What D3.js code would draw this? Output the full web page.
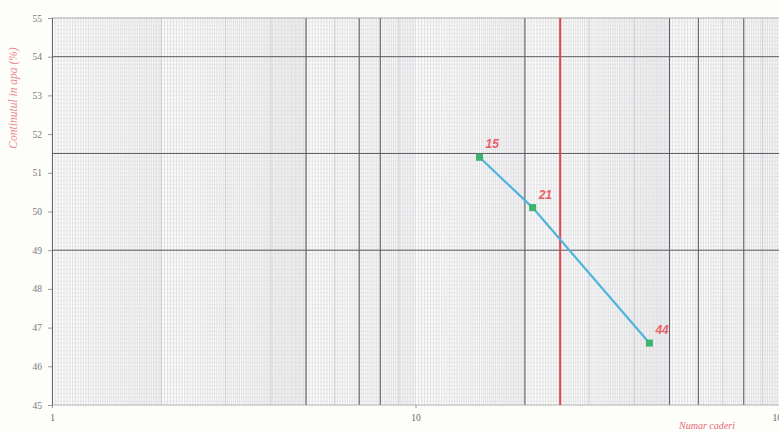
<!DOCTYPE html>
<html>
<head>
<meta charset="utf-8">
<script src="https://cdn.jsdelivr.net/npm/d3@7"></script>
<style>
  html, body { margin: 0; padding: 0; background: #fdfdf9; overflow: hidden; }
  svg { display: block; }
</style>
</head>
<body>
<svg id="chart" width="779" height="433"></svg>
<script>
// Number of blows and measured water content for each trial
const blows = [15, 21, 44];
const waterContent = [51.4, 50.1, 46.6];
const pointLabels = ["15", "21", "44"];

// Reference blow count for the liquid limit
const referenceBlows = [25];

// Axis ticks
const xTicks = [1, 10, 100];
const yTicks = [45, 46, 47, 48, 49, 50, 51, 52, 53, 54, 55];

// Heavier printed lines on the log paper
const heavyX = [5, 7, 8, 20, 50, 60, 80];
const heavyY = [54, 51.5, 49];

const margin = { left: 52, top: 18 };
const plotW = 727, plotH = 387;

const svg = d3.select("#chart");
const g = svg.append("g").attr("transform", `translate(${margin.left},${margin.top})`);

const x = d3.scaleLog().domain([1, 100]).range([0, plotW]);
const y = d3.scaleLinear().domain([45, 55]).range([plotH, 0]);

// plot background
g.append("rect").attr("width", plotW).attr("height", plotH).attr("fill", "#fafafa");

// fine vertical rulings of the log paper
const fineX = [];
for (const dec of [1, 10]) {
  for (let v = 1; v < 2 - 1e-9; v += 0.02) fineX.push(v * dec);
  for (let v = 2; v < 5 - 1e-9; v += 0.04) fineX.push(v * dec);
  for (let v = 5; v < 10 - 1e-9; v += 0.1) fineX.push(v * dec);
}
g.append("g").selectAll("line").data(fineX).join("line")
  .attr("x1", d => x(d)).attr("x2", d => x(d))
  .attr("y1", 0).attr("y2", plotH)
  .attr("stroke", "#cdcdd3").attr("stroke-width", 0.5);

// fine horizontal rulings every 0.1 %
const fineY = d3.range(45, 55.0001, 0.1);
g.append("g").selectAll("line").data(fineY).join("line")
  .attr("x1", 0).attr("x2", plotW)
  .attr("y1", d => y(d)).attr("y2", d => y(d))
  .attr("stroke", "#c6c6cb").attr("stroke-width", 0.5)
  .attr("stroke-dasharray", "1,1.2");

// integer vertical lines
const intX = [];
for (const dec of [1, 10]) for (let k = 2; k <= 9; k++) intX.push(k * dec);
g.append("g").selectAll("line").data(intX).join("line")
  .attr("x1", d => x(d)).attr("x2", d => x(d))
  .attr("y1", 0).attr("y2", plotH)
  .attr("stroke", "#c0c0c4").attr("stroke-width", 0.6);

// heavy vertical and horizontal lines
g.append("g").selectAll("line").data(heavyX).join("line")
  .attr("x1", d => x(d)).attr("x2", d => x(d))
  .attr("y1", 0).attr("y2", plotH)
  .attr("stroke", "#5a5a5e").attr("stroke-width", 1);
g.append("g").selectAll("line").data(heavyY).join("line")
  .attr("x1", 0).attr("x2", plotW)
  .attr("y1", d => y(d)).attr("y2", d => y(d))
  .attr("stroke", "#5a5a5e").attr("stroke-width", 1);

// frame lines
g.append("line").attr("x1", 0).attr("x2", plotW).attr("y1", 0).attr("y2", 0)
  .attr("stroke", "#999").attr("stroke-width", 0.8);
g.append("line").attr("x1", 0).attr("x2", plotW).attr("y1", plotH).attr("y2", plotH)
  .attr("stroke", "#aaa").attr("stroke-width", 0.8);

// y axis
const yAxis = g.append("g").call(d3.axisLeft(y).tickValues(yTicks).tickSize(4).tickPadding(6));
yAxis.select(".domain").attr("stroke", "#666").attr("stroke-width", 1);
yAxis.selectAll(".tick line").attr("stroke", "#999");
yAxis.selectAll("text").attr("fill", "#7a7a7a").style("font", "9.5px 'Liberation Serif', serif");

// x axis
const xAxis = g.append("g").attr("transform", `translate(0,${plotH})`)
  .call(d3.axisBottom(x).tickValues(xTicks).tickFormat(d3.format("d")).tickSize(3).tickPadding(6));
xAxis.select(".domain").remove();
xAxis.selectAll(".tick line").attr("stroke", "#999");
xAxis.selectAll("text").attr("fill", "#666").style("font", "9.5px 'Liberation Serif', serif");

// reference line at 25 blows
g.selectAll(".ref").data(referenceBlows).join("line").attr("class", "ref")
  .attr("x1", d => x(d)).attr("x2", d => x(d))
  .attr("y1", 0).attr("y2", plotH)
  .attr("stroke", "#e0474f").attr("stroke-width", 2);

// flow curve
const pts = blows.map((b, i) => ({ b, w: waterContent[i], label: pointLabels[i] }));
g.append("path").datum(pts)
  .attr("d", d3.line().x(d => x(d.b)).y(d => y(d.w)))
  .attr("fill", "none").attr("stroke", "#4fb4dc").attr("stroke-width", 2.2);

g.selectAll(".pt").data(pts).join("rect").attr("class", "pt")
  .attr("x", d => x(d.b) - 3.5).attr("y", d => y(d.w) - 3.5)
  .attr("width", 7).attr("height", 7)
  .attr("fill", "#3cb371");

g.selectAll(".lbl").data(pts).join("text").attr("class", "lbl")
  .attr("x", d => x(d.b) + 6).attr("y", d => y(d.w) - 9)
  .attr("fill", "#e8606a")
  .style("font", "italic bold 12px 'Liberation Sans', Arial, sans-serif")
  .text(d => d.label);

// axis titles
svg.append("text")
  .attr("transform", "translate(17,98) rotate(-90)")
  .attr("text-anchor", "middle")
  .attr("fill", "#ea8a94")
  .style("font", "italic 11.5px 'Liberation Serif', serif")
  .text("Continutul in apa (%)");

svg.append("text")
  .attr("x", 707).attr("y", 429)
  .attr("text-anchor", "middle")
  .attr("fill", "#e56a76")
  .style("font", "italic 10px 'Liberation Serif', serif")
  .text("Numar caderi");
</script>
</body>
</html>
